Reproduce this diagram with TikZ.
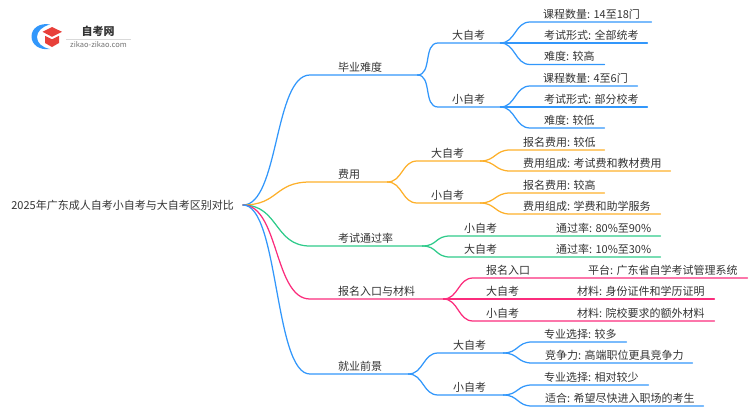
\documentclass[tikz,border=0pt]{standalone}
\usepackage{fontspec}
\setmainfont{Noto Sans CJK SC}
\definecolor{cblue}{HTML}{3297FB}
\definecolor{corange}{HTML}{FDB02B}
\definecolor{cgreen}{HTML}{2FCB8B}
\definecolor{cpink}{HTML}{FB2C7C}
\definecolor{ctext}{HTML}{333333}
\definecolor{cred}{HTML}{E8403A}
\tikzset{
  branch/.style={anchor=south west,inner sep=0pt,text=ctext,text height=8pt,text depth=3.6pt,font=\fontsize{11}{13}\selectfont},
  link/.style={line width=1.25pt,line cap=round},
  far/.style={out=0,in=180,out distance=36pt,in distance=36pt},
  near/.style={out=0,in=180,out distance=15pt,in distance=15pt}
}
% name, x start, x end, y of the line, left padding of the text, text
\newcommand{\br}[6]{\node[branch] (#1) at (#2,#4) {\hbox to \dimexpr #3pt-#2pt\relax{\hskip #5pt #6\hss}};}
% colour, style, parent, child
\newcommand{\cn}[4]{\draw[link,#1] (#3.south east) to[#2] (#4.south west) -- (#4.south east);}
\begin{document}
\begin{tikzpicture}[x=1pt,y=-1pt]
\useasboundingbox (0,0) rectangle (750,410);
% logo
\fill[cblue] (50,24.5) .. controls (40,22.5) and (31.5,28) .. (31.5,36.5) .. controls (31.5,45) and (40,50.5) .. (50,49) .. controls (42,47.5) and (37,43) .. (37,37) .. controls (37,31.5) and (42,26.5) .. (50,24.5) -- cycle;
\fill[cred] (42.5,31.8) -- (52,27) -- (62,31.8) -- (52,36.8) -- cycle;
\fill[cred] (45,35.8) -- (52,39.3) -- (59,35.8) -- (59,43) -- (52,47) -- (45,43) -- cycle;
\fill[black!15] (66,38.7) rectangle (131,39.3);
\node[inner sep=0pt,text=ctext,font=\fontsize{11}{13}\selectfont\bfseries] (logoa) at (98,31) {自考网};
\node[inner sep=0pt,text=black!55,font=\fontsize{7.5}{9}\selectfont] (logob) at (98.5,45) {zikao-zikao.com};
% root
\node[anchor=east,inner sep=0pt,text=ctext,font=\fontsize{11}{13}\selectfont] (root) at (234,205) {2025年广东成人自考小自考与大自考区别对比};
\coordinate (hub) at ([xshift=9pt]root.east);
% level 1
\br{a}{310}{417}{75}{28}{毕业难度}
\br{b}{310}{387}{182}{28}{费用}
\br{c}{310}{422}{246}{28}{考试通过率}
\br{d}{310}{443}{299}{28}{报名入口与材料}
\br{e}{310}{408}{374}{28}{就业前景}
% level 2
\br{a1}{438}{500}{43}{14}{大自考}
\br{a2}{438}{500}{107}{14}{小自考}
\br{b1}{417}{480}{161}{14}{大自考}
\br{b2}{417}{480}{203}{14}{小自考}
\br{c1}{450}{660}{236}{14}{小自考\hskip 59pt 通过率: 80\%至90\%}
\br{c2}{450}{660}{257}{14}{大自考\hskip 59pt 通过率: 10\%至30\%}
\br{d1}{473}{747}{278}{13}{报名入口\hskip 58pt 平台: 广东省自学考试管理系统}
\br{d2}{473}{714}{299}{13}{大自考\hskip 58pt 材料: 身份证件和学历证明}
\br{d3}{473}{714}{321}{13}{小自考\hskip 58pt 材料: 院校要求的额外材料}
\br{e1}{438}{503}{353}{15}{大自考}
\br{e2}{438}{503}{395}{15}{小自考}
% level 3
\br{a11}{530}{651}{22}{13}{课程数量: 14至18门}
\br{a12}{530}{647}{43}{14}{考试形式: 全部统考}
\br{a13}{530}{604}{64.5}{14}{难度: 较高}
\br{a21}{530}{637}{86}{13}{课程数量: 4至6门}
\br{a22}{530}{647}{107}{14}{考试形式: 部分校考}
\br{a23}{530}{604}{128}{14}{难度: 较低}
\br{b11}{510}{604}{150}{13}{报名费用: 较低}
\br{b12}{510}{670}{171}{13}{费用组成: 考试费和教材费用}
\br{b21}{510}{604}{193}{13}{报名费用: 较高}
\br{b22}{510}{660}{214}{13}{费用组成: 学费和助学服务}
\br{e11}{532}{626}{342}{12}{专业选择: 较多}
\br{e12}{532}{692}{363}{13}{竞争力: 高端职位更具竞争力}
\br{e21}{532}{648}{385}{12}{专业选择: 相对较少}
\br{e22}{532}{703}{406}{13}{适合: 希望尽快进入职场的考生}
% connectors
\draw[link,cblue] (hub) to[far] (a.south west) -- (a.south east);
\draw[link,corange] (hub) to[far] (b.south west) -- (b.south east);
\draw[link,cgreen] (hub) to[far] (c.south west) -- (c.south east);
\draw[link,cpink] (hub) to[far] (d.south west) -- (d.south east);
\draw[link,cblue] (hub) to[far] (e.south west) -- (e.south east);
\cn{cblue}{near}{a}{a1}\cn{cblue}{near}{a}{a2}
\cn{corange}{near}{b}{b1}\cn{corange}{near}{b}{b2}
\cn{cgreen}{near}{c}{c1}\cn{cgreen}{near}{c}{c2}
\cn{cpink}{near}{d}{d1}\cn{cpink}{near}{d}{d2}\cn{cpink}{near}{d}{d3}
\cn{cblue}{near}{e}{e1}\cn{cblue}{near}{e}{e2}
\cn{cblue}{near}{a1}{a11}\cn{cblue}{near}{a1}{a12}\cn{cblue}{near}{a1}{a13}
\cn{cblue}{near}{a2}{a21}\cn{cblue}{near}{a2}{a22}\cn{cblue}{near}{a2}{a23}
\cn{corange}{near}{b1}{b11}\cn{corange}{near}{b1}{b12}
\cn{corange}{near}{b2}{b21}\cn{corange}{near}{b2}{b22}
\cn{cblue}{near}{e1}{e11}\cn{cblue}{near}{e1}{e12}
\cn{cblue}{near}{e2}{e21}\cn{cblue}{near}{e2}{e22}
\end{tikzpicture}
\end{document}
